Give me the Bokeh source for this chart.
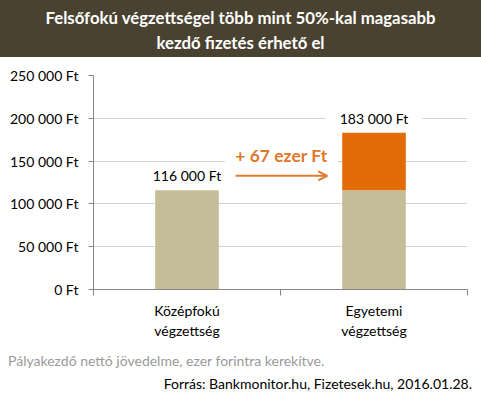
from bokeh.plotting import figure
from bokeh.models import (Div, FixedTicker, Range1d, Arrow, OpenHead, ColumnDataSource)
from bokeh.layouts import column
from bokeh.core.properties import value
from bokeh.embed import file_html
from bokeh.resources import INLINE

# ---- data ----
categories = ["Középfokú\nvégzettség", "Egyetemi\nvégzettség"]
salaries = [116000, 183000]
y_ticks = [0, 50000, 100000, 150000, 200000, 250000]
title_lines = ["Felsőfokú végzettségel több mint 50%-kal magasabb", "kezdő fizetés érhető el"]
note_text = "Pályakezdő nettó jövedelme, ezer forintra kerekítve."
source_text = "Forrás: Bankmonitor.hu, Fizetesek.hu, 2016.01.28."

TAN = "#c4bd97"
ORANGE = "#e36c09"
ARROW_C = "#de7b2f"
FONT = "Lato"
W = 481

def ft(v):
    return f"{v:,}".replace(",", " ") + " Ft"

xs = [i + 0.5 for i in range(len(categories))]
base = min(salaries)
bar_w = 0.34

title_div = Div(
    text="<br>".join(title_lines), width=W, height=57, margin=0,
    styles={"background-color": "#4a4230", "color": "white", "font-family": FONT,
            "font-weight": "bold", "font-size": "16.8px", "text-align": "center",
            "line-height": "25px", "padding-top": "5px", "box-sizing": "border-box",
            "width": f"{W}px"})

p = figure(width=W, height=288, output_backend="svg", toolbar_location=None,
           x_range=Range1d(0, len(categories)), y_range=Range1d(0, y_ticks[-1]),
           min_border_left=93, min_border_right=14, min_border_top=18, min_border_bottom=56,
           background_fill_color="white", border_fill_color="white", outline_line_color=None)

# base (tan) bars for all categories, increment (orange) above the base
src = ColumnDataSource(dict(x=xs, top_base=[min(v, base) for v in salaries],
                            inc_bottom=[base for _ in salaries],
                            inc_top=salaries,
                            label=[ft(v) for v in salaries]))
p.vbar(x="x", width=bar_w, bottom=0, top="top_base", source=src, fill_color=TAN, line_color=None)
p.vbar(x="x", width=bar_w, bottom="inc_bottom", top="inc_top", source=src,
       fill_color=ORANGE, line_color=None)

p.text(x="x", y="inc_top", text="label", source=src, text_align="center", text_baseline="bottom",
       y_offset=-5, text_font=value(FONT), text_font_size="14px", text_color="black",
       background_fill_color="white", padding=(14, 1))

# arrow with difference
diff = salaries[1] - salaries[0]
arrow_y = salaries[0] + 0.25 * diff
x0 = xs[0] + bar_w / 2 + 0.09
x1 = xs[1] - bar_w / 2 - 0.08
p.add_layout(Arrow(x_start=x0, y_start=arrow_y, x_end=x1, y_end=arrow_y,
                   line_color=ARROW_C, line_width=2,
                   end=OpenHead(size=9, line_color=ARROW_C, line_width=2)))
p.text(x=[(x0 + x1) / 2], y=[arrow_y], text=[f"+ {diff // 1000} ezer Ft"], text_align="center",
       text_baseline="bottom", y_offset=-9, text_font=value(FONT), text_font_size="17.5px",
       text_font_style="bold", text_color="#e0782a", background_fill_color="white", padding=(10, 1))

# axes
p.xgrid.visible = False
p.ygrid.ticker = FixedTicker(ticks=y_ticks)
p.ygrid.grid_line_color = "#d4d4d4"

ya = p.yaxis[0]
ya.ticker = FixedTicker(ticks=y_ticks, minor_ticks=[])
ya.major_label_overrides = {t: ft(t) for t in y_ticks}
ya.axis_line_color = "#868686"
ya.major_tick_line_color = "#868686"
ya.major_tick_out = 5
ya.major_tick_in = 0
ya.minor_tick_out = 0
ya.major_label_standoff = 10
ya.major_label_text_font = FONT
ya.major_label_text_font_size = "14px"
ya.major_label_text_color = "black"

xa = p.xaxis[0]
xa.ticker = FixedTicker(ticks=xs, minor_ticks=list(range(len(categories) + 1)))
xa.major_label_overrides = {x: c for x, c in zip(xs, categories)}
xa.axis_line_color = "#868686"
xa.major_tick_out = 0
xa.major_tick_in = 0
xa.minor_tick_out = 6
xa.minor_tick_in = 0
xa.minor_tick_line_color = "#868686"
xa.major_label_standoff = 6
xa.major_label_text_font = FONT
xa.major_label_text_font_size = "14px"
xa.major_label_text_color = "black"

footer = Div(
    text=(f'<div style="color:#9a9a9a;text-align:left;width:{W - 8}px;padding-left:8px">{note_text}</div>'
          f'<div style="color:black;text-align:right;width:{W - 9}px">{source_text}</div>'),
    width=W, height=51, margin=0,
    styles={"font-family": FONT, "font-size": "14px", "line-height": "23px",
            "padding-top": "4px", "box-sizing": "border-box", "background-color": "white",
            "width": f"{W}px"})

layout = column(title_div, p, footer, spacing=0)
open("out.html", "w").write(file_html(layout, INLINE))
